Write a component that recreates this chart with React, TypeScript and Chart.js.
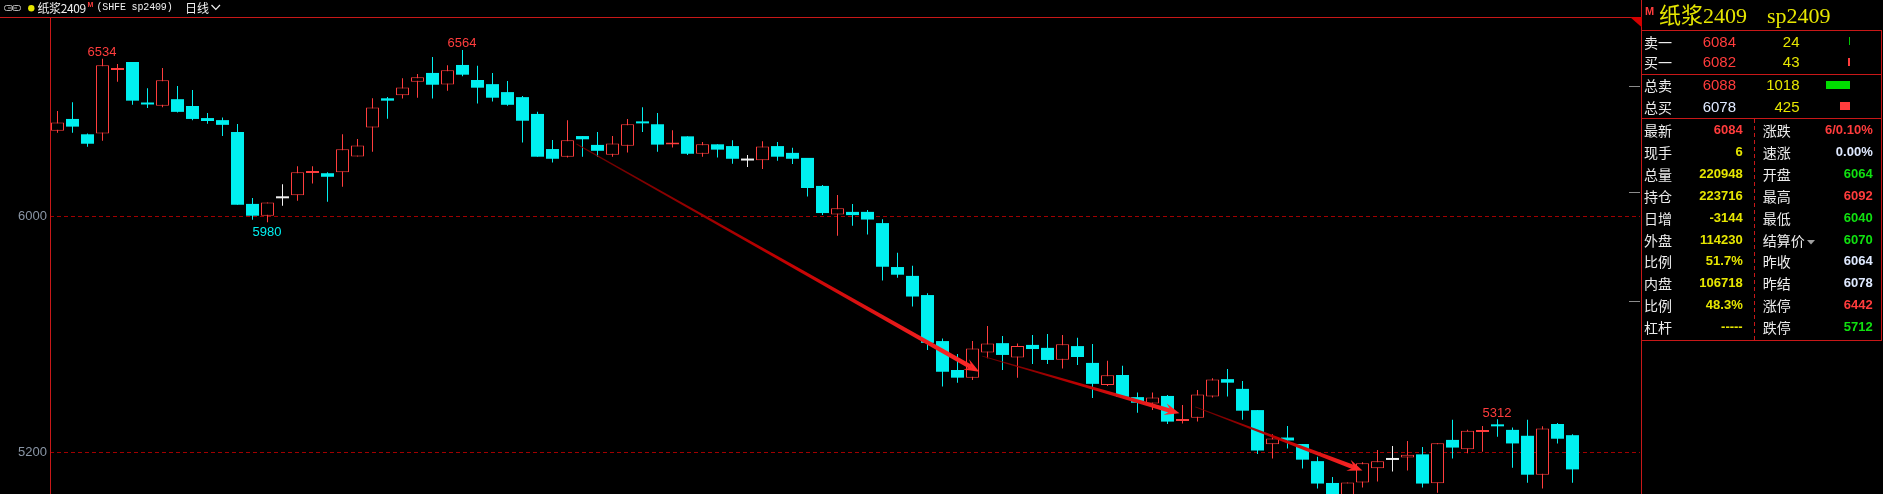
import React, { useEffect, useRef } from 'react';
import { Chart, registerables } from 'chart.js';

Chart.register(...registerables);

const W = 1883;
const H = 494;

// ---- candle data (daily OHLC) ----
const opens = [
  6290, 6330, 6278, 6281, 6496, 6523, 6384, 6375, 6397, 6374,
  6333, 6326, 6286, 6042, 6002, 6061, 6071, 6147, 6146, 6149,
  6203, 6301, 6400, 6410, 6456, 6486, 6447, 6513, 6462, 6448,
  6421, 6404, 6347, 6228, 6202, 6272, 6242, 6209, 6239, 6320,
  6312, 6243, 6271, 6212, 6244, 6238, 6189, 6190, 6238, 6215,
  6198, 6103, 6006, 6015, 6015, 5977, 5828, 5798, 5733, 5577,
  5479, 5453, 5538, 5570, 5521, 5564, 5554, 5514, 5560, 5503,
  5428, 5462, 5387, 5365, 5391, 5306, 5317, 5389, 5448, 5415,
  5343, 5227, 5250, 5228, 5170, 5096, 5045, 5098, 5146, 5174,
  5182, 5193, 5095, 5242, 5210, 5269, 5292, 5276, 5256, 5124,
  5296, 5258,
];
const highs = [
  6357, 6387, 6281, 6534, 6516, 6523, 6434, 6503, 6442, 6428,
  6350, 6335, 6313, 6062, 6047, 6109, 6170, 6170, 6149, 6278,
  6262, 6400, 6404, 6468, 6482, 6540, 6512, 6564, 6510, 6486,
  6459, 6408, 6354, 6259, 6326, 6272, 6286, 6272, 6330, 6370,
  6350, 6292, 6271, 6252, 6244, 6258, 6208, 6254, 6252, 6232,
  6198, 6106, 6072, 6042, 6021, 5990, 5876, 5832, 5739, 5586,
  5533, 5577, 5628, 5594, 5569, 5598, 5601, 5598, 5588, 5567,
  5510, 5493, 5403, 5403, 5394, 5360, 5411, 5451, 5482, 5442,
  5343, 5261, 5289, 5228, 5185, 5116, 5098, 5166, 5208, 5221,
  5238, 5218, 5231, 5310, 5276, 5289, 5312, 5284, 5310, 5288,
  5299, 5261,
];
const lows = [
  6283, 6283, 6236, 6256, 6456, 6378, 6367, 6370, 6352, 6326,
  6314, 6272, 6039, 5988, 5980, 6036, 6053, 6111, 6049, 6100,
  6203, 6219, 6331, 6399, 6402, 6399, 6426, 6475, 6382, 6389,
  6375, 6250, 6202, 6182, 6199, 6202, 6202, 6202, 6216, 6286,
  6219, 6233, 6208, 6202, 6199, 6178, 6167, 6160, 6188, 6177,
  6067, 6004, 5934, 5968, 5938, 5782, 5792, 5694, 5547, 5423,
  5436, 5445, 5519, 5479, 5453, 5499, 5499, 5484, 5496, 5384,
  5425, 5385, 5334, 5343, 5296, 5298, 5304, 5386, 5389, 5310,
  5194, 5179, 5213, 5145, 5077, 5030, 5030, 5081, 5101, 5135,
  5138, 5081, 5063, 5179, 5197, 5202, 5253, 5148, 5097, 5077,
  5230, 5097,
];
const closes = [
  6318, 6304, 6246, 6512, 6498, 6392, 6379, 6461, 6354, 6330,
  6323, 6310, 6039, 6002, 6047, 6061, 6149, 6149, 6134, 6227,
  6240, 6369, 6392, 6437, 6471, 6446, 6495, 6480, 6436, 6402,
  6378, 6324, 6202, 6195, 6258, 6261, 6222, 6247, 6312, 6315,
  6243, 6250, 6212, 6244, 6226, 6195, 6189, 6237, 6202, 6195,
  6096, 6011, 6027, 6004, 5989, 5829, 5802, 5728, 5571, 5473,
  5453, 5552, 5569, 5530, 5560, 5550, 5513, 5566, 5523, 5432,
  5461, 5388, 5368, 5386, 5304, 5308, 5396, 5447, 5436, 5341,
  5206, 5247, 5240, 5175, 5094, 5040, 5098, 5163, 5170, 5174,
  5192, 5094, 5231, 5216, 5273, 5271, 5288, 5230, 5124, 5281,
  5246, 5142,
];

const slotCount = 106; // visible day slots (incl. empty space on the right)
const categories = Array.from({ length: slotCount }, (_, i) => `D${i + 1}`);

const yTicks = [5200, 6000];
const yMin = 5058.6;
const yMax = 6675.6;

// labelled extremes
const extremeMarks = [
  { index: 3, kind: 'high' },
  { index: 27, kind: 'high' },
  { index: 14, kind: 'low' },
  { index: 96, kind: 'high' },
];

// hand-drawn trend arrows (category index, price)
const trendArrows = [
  { from: [34.6, 6245], to: [61.45, 5473] },
  { from: [61.65, 5526], to: [74.8, 5332] },
  { from: [75.85, 5354], to: [87.0, 5138] },
];

// right-edge markers: limit up, last, limit down
const sideMarks = [6442, 6084, 5712];

// ---- quote panel data ----
const bookRows = [
  { label: '卖一', price: '6084', priceColor: 'red', qty: '24' },
  { label: '买一', price: '6082', priceColor: 'red', qty: '43' },
  { label: '总卖', price: '6088', priceColor: 'red', qty: '1018' },
  { label: '总买', price: '6078', priceColor: 'white', qty: '425' },
];
const quoteLeft = [
  ['最新', '6084', 'red'],
  ['现手', '6', 'yellow'],
  ['总量', '220948', 'yellow'],
  ['持仓', '223716', 'yellow'],
  ['日增', '-3144', 'yellow'],
  ['外盘', '114230', 'yellow'],
  ['比例', '51.7%', 'yellow'],
  ['内盘', '106718', 'yellow'],
  ['比例', '48.3%', 'yellow'],
  ['杠杆', '-----', 'yellow'],
];
const quoteRight = [
  ['涨跌', '6/0.10%', 'red'],
  ['速涨', '0.00%', 'white'],
  ['开盘', '6064', 'green'],
  ['最高', '6092', 'red'],
  ['最低', '6040', 'green'],
  ['结算价', '6070', 'green'],
  ['昨收', '6064', 'white'],
  ['昨结', '6078', 'white'],
  ['涨停', '6442', 'red'],
  ['跌停', '5712', 'green'],
];

const RED = '#ff3d3d';
const CYAN = '#00f0f0';
const WHITE = '#f0f0f0';
const LINE_RED = '#c81818';
const PANEL_COLORS: Record<string, string> = {
  red: '#ff3c3c',
  yellow: '#e6e600',
  green: '#10e010',
  white: '#dfe9ff',
};

const SANS = '"Liberation Sans", "Noto Sans CJK SC", sans-serif';
const CJK = '"Noto Sans CJK SC", "Liberation Sans", sans-serif';

const dirs = closes.map((c, i) => (c > opens[i] ? 1 : c < opens[i] ? -1 : 0));
const candleColor = dirs.map((d) => (d > 0 ? RED : d < 0 ? CYAN : WHITE));

function drawArrow(ctx: CanvasRenderingContext2D, x0: number, y0: number, x1: number, y1: number) {
  const dx = x1 - x0;
  const dy = y1 - y0;
  const len = Math.hypot(dx, dy);
  const ux = dx / len;
  const uy = dy / len;
  const nx = -uy;
  const ny = ux;
  const headLen = 15;
  const headW = 6;
  const notch = 9;
  const w0 = 0.5;
  const w1 = 2.3;
  const bx = x1 - ux * notch;
  const by = y1 - uy * notch;
  const grad = ctx.createLinearGradient(x0, y0, x1, y1);
  grad.addColorStop(0, 'rgba(120,0,0,0.85)');
  grad.addColorStop(0.5, '#c00000');
  grad.addColorStop(1, '#ff2a2a');
  ctx.fillStyle = grad;
  ctx.beginPath();
  ctx.moveTo(x0 + nx * w0, y0 + ny * w0);
  ctx.lineTo(bx + nx * w1, by + ny * w1);
  ctx.lineTo(bx - nx * w1, by - ny * w1);
  ctx.lineTo(x0 - nx * w0, y0 - ny * w0);
  ctx.closePath();
  ctx.fill();
  ctx.fillStyle = '#ff2a2a';
  ctx.beginPath();
  ctx.moveTo(x1, y1);
  ctx.lineTo(x1 - ux * headLen + nx * headW, y1 - uy * headLen + ny * headW);
  ctx.lineTo(x1 - ux * notch, y1 - uy * notch);
  ctx.lineTo(x1 - ux * headLen - nx * headW, y1 - uy * headLen - ny * headW);
  ctx.closePath();
  ctx.fill();
}

const overlayPlugin = {
  id: 'klineOverlay',
  afterDatasetsDraw(chart: any) {
    const { ctx, chartArea } = chart;
    const x = chart.scales.x;
    const y = chart.scales.y;
    ctx.save();
    ctx.beginPath();
    ctx.rect(chartArea.left, chartArea.top, chartArea.right - chartArea.left, chartArea.bottom - chartArea.top);
    ctx.clip();

    for (const a of trendArrows) {
      drawArrow(
        ctx,
        x.getPixelForValue(a.from[0]),
        y.getPixelForValue(a.from[1]),
        x.getPixelForValue(a.to[0]),
        y.getPixelForValue(a.to[1])
      );
    }

    ctx.font = '13px "Liberation Sans", Arial, sans-serif';
    ctx.textAlign = 'center';
    ctx.textBaseline = 'alphabetic';
    for (const m of extremeMarks) {
      const px = x.getPixelForValue(m.index) - 0.5;
      if (m.kind === 'high') {
        const v = highs[m.index];
        ctx.fillStyle = RED;
        ctx.fillText(String(v), px, y.getPixelForValue(v) - 2.5);
      } else {
        const v = lows[m.index];
        ctx.fillStyle = CYAN;
        ctx.fillText(String(v), px, y.getPixelForValue(v) + 13.5);
      }
    }

    ctx.strokeStyle = '#8c8c8c';
    ctx.lineWidth = 1;
    for (const v of sideMarks) {
      const py = Math.round(y.getPixelForValue(v)) + 0.5;
      ctx.beginPath();
      ctx.moveTo(chartArea.right - 11, py);
      ctx.lineTo(chartArea.right, py);
      ctx.stroke();
    }
    ctx.restore();
  },
};

function Txt(props: {
  x: number;
  y: number;
  text: string;
  color: string;
  size: number;
  bold?: boolean;
  right?: boolean;
  family?: string;
  spacing?: number;
}) {
  const lh = 20;
  const style: any = {
    position: 'absolute',
    top: props.y - lh / 2,
    height: lh,
    lineHeight: lh + 'px',
    fontSize: props.size,
    color: props.color,
    fontWeight: props.bold ? 700 : 400,
    whiteSpace: 'pre',
    fontFamily: props.family || SANS,
    letterSpacing: props.spacing ? props.spacing + 'px' : undefined,
  };
  if (props.right) style.right = W - props.x;
  else style.left = props.x;
  return <div style={style}>{props.text}</div>;
}

export default function App() {
  const canvasRef = useRef<HTMLCanvasElement>(null);

  useEffect(() => {
    const canvas = canvasRef.current;
    if (!canvas) return;
    const chart = new Chart(canvas, {
      type: 'bar',
      data: {
        labels: categories,
        datasets: [
          {
            label: 'body',
            data: opens.map((o, i) => [Math.min(o, closes[i]), Math.max(o, closes[i])]) as any,
            backgroundColor: dirs.map((d) => (d > 0 ? '#000000' : d < 0 ? CYAN : WHITE)),
            borderColor: candleColor,
            borderWidth: dirs.map((d) => (d > 0 ? 1 : 0)),
            borderSkipped: false,
            inflateAmount: 0,
            minBarLength: 2,
            barThickness: 13,
            grouped: false,
            order: 1,
          } as any,
          {
            label: 'wick',
            data: lows.map((l, i) => [l, highs[i]]) as any,
            backgroundColor: candleColor,
            borderWidth: 0,
            inflateAmount: 0,
            barThickness: 1,
            grouped: false,
            order: 2,
          } as any,
        ],
      },
      options: {
        responsive: false,
        animation: false,
        devicePixelRatio: 1,
        layout: { padding: { left: 0, top: 17, right: 243, bottom: 0 } },
        plugins: { legend: { display: false }, tooltip: { enabled: false } },
        scales: {
          x: {
            type: 'category',
            display: false,
            offset: true,
            grid: { display: false },
          },
          y: {
            type: 'linear',
            min: yMin,
            max: yMax,
            afterBuildTicks: (s: any) => {
              s.ticks = yTicks.map((v) => ({ value: v }));
            },
            afterFit: (s: any) => {
              s.width = 50;
              s.paddingTop = 0;
              s.paddingBottom = 0;
            },
            ticks: {
              color: '#8a96a6',
              font: { family: 'Liberation Sans', size: 13 },
              padding: 3,
              callback: (v: any) => String(v),
            },
            grid: { color: '#a00000', drawTicks: false, lineWidth: 1 },
            border: { display: false, dash: [4, 3] },
          },
        },
      } as any,
      plugins: [overlayPlugin],
    });
    return () => chart.destroy();
  }, []);

  const rowY = (k: number) => 130 + 21.9 * k;
  const bookY = [42.3, 62.3, 85.3, 107];

  return (
    <div
      style={{
        position: 'fixed',
        left: 0,
        top: 0,
        width: W,
        height: H,
        background: '#000',
        overflow: 'hidden',
        fontFamily: SANS,
      }}
    >
      <canvas ref={canvasRef} width={W} height={H} style={{ position: 'absolute', left: 0, top: 0, width: W, height: H }} />
      <svg width={W} height={H} style={{ position: 'absolute', left: 0, top: 0 }} shapeRendering="crispEdges">
        {/* header & axis lines */}
        <line x1={0} y1={17.5} x2={1641} y2={17.5} stroke={LINE_RED} strokeWidth={1} />
        <line x1={50.5} y1={17} x2={50.5} y2={H} stroke={LINE_RED} strokeWidth={1} />
        <line x1={1641.5} y1={0} x2={1641.5} y2={H} stroke={LINE_RED} strokeWidth={1} />
        {/* panel box */}
        {[30.5, 74.5, 118.5, 340.5].map((yy) => (
          <line key={yy} x1={1641} y1={yy} x2={1882} y2={yy} stroke={LINE_RED} strokeWidth={1} />
        ))}
        <line x1={1881.5} y1={30} x2={1881.5} y2={341} stroke={LINE_RED} strokeWidth={1} />
        <line x1={1754.5} y1={119} x2={1754.5} y2={340} stroke={LINE_RED} strokeWidth={1} strokeDasharray="4 3" />
        <polygon points="1630,17 1642,17 1642,27.5" fill="#d40000" shapeRendering="auto" />
        {/* depth bars */}
        <rect x={1849} y={37} width={1} height={8} fill="#00c800" />
        <rect x={1848} y={58} width={2} height={8} fill={RED} />
        <rect x={1826} y={81} width={24} height={8} fill="#00dd00" />
        <rect x={1840} y={102} width={10} height={8} fill={RED} />
        {/* settle dropdown */}
        <polygon points="1807,240 1815,240 1811,244.5" fill="#a0a0a0" shapeRendering="auto" />
        {/* header icons */}
        <g shapeRendering="auto" fill="none" stroke="#b4b4b4" strokeWidth={1}>
          <rect x={4.5} y={5.5} width={8} height={5} rx={2} />
          <rect x={12.5} y={5.5} width={8} height={5} rx={2} />
          <line x1={8} y1={8} x2={17} y2={8} />
        </g>
        <circle cx={31.3} cy={8.3} r={3.2} fill="#e6e600" shapeRendering="auto" />
        <polyline points="211.5,5 215.8,9.5 220,5" fill="none" stroke="#f0f0f0" strokeWidth={1.2} shapeRendering="auto" />
      </svg>

      {/* top-left header */}
      <Txt x={37.5} y={8} text="纸浆2409" color="#f0f0f0" size={12} family={CJK} spacing={-0.4} />
      <Txt x={87.5} y={4.7} text="M" color={RED} size={7} bold />
      <Txt x={96.5} y={8.3} text="(SHFE sp2409)" color="#f0f0f0" size={10} family='"Liberation Mono", monospace' spacing={-0.15} />
      <Txt x={185} y={8} text="日线" color="#f0f0f0" size={12} family={CJK} />

      {/* panel title */}
      <Txt x={1645} y={11} text="M" color={RED} size={11} bold />
      <Txt x={1659} y={16} text="纸浆2409" color="#e6e600" size={22} family='"Liberation Serif", "Noto Sans CJK SC", serif' />
      <Txt x={1767} y={16} text="sp2409" color="#e6e600" size={22} family='"Liberation Serif", serif' />

      {/* order book */}
      {bookRows.map((r, k) => (
        <React.Fragment key={'b' + k}>
          <Txt x={1644} y={bookY[k]} text={r.label} color="#ececec" size={14} family={CJK} />
          <Txt x={1736} y={bookY[k]} text={r.price} color={PANEL_COLORS[r.priceColor]} size={15} right />
          <Txt x={1799.5} y={bookY[k]} text={r.qty} color={PANEL_COLORS.yellow} size={15} right />
        </React.Fragment>
      ))}

      {/* quote table */}
      {quoteLeft.map((r, k) => (
        <React.Fragment key={'l' + k}>
          <Txt x={1644} y={rowY(k)} text={r[0]} color="#ececec" size={14} family={CJK} />
          <Txt x={1742.7} y={rowY(k)} text={r[1]} color={PANEL_COLORS[r[2]]} size={13} bold right />
        </React.Fragment>
      ))}
      {quoteRight.map((r, k) => (
        <React.Fragment key={'r' + k}>
          <Txt x={1762.7} y={rowY(k)} text={r[0]} color="#ececec" size={14} family={CJK} />
          <Txt x={1872.7} y={rowY(k)} text={r[1]} color={PANEL_COLORS[r[2]]} size={13} bold right />
        </React.Fragment>
      ))}
    </div>
  );
}
